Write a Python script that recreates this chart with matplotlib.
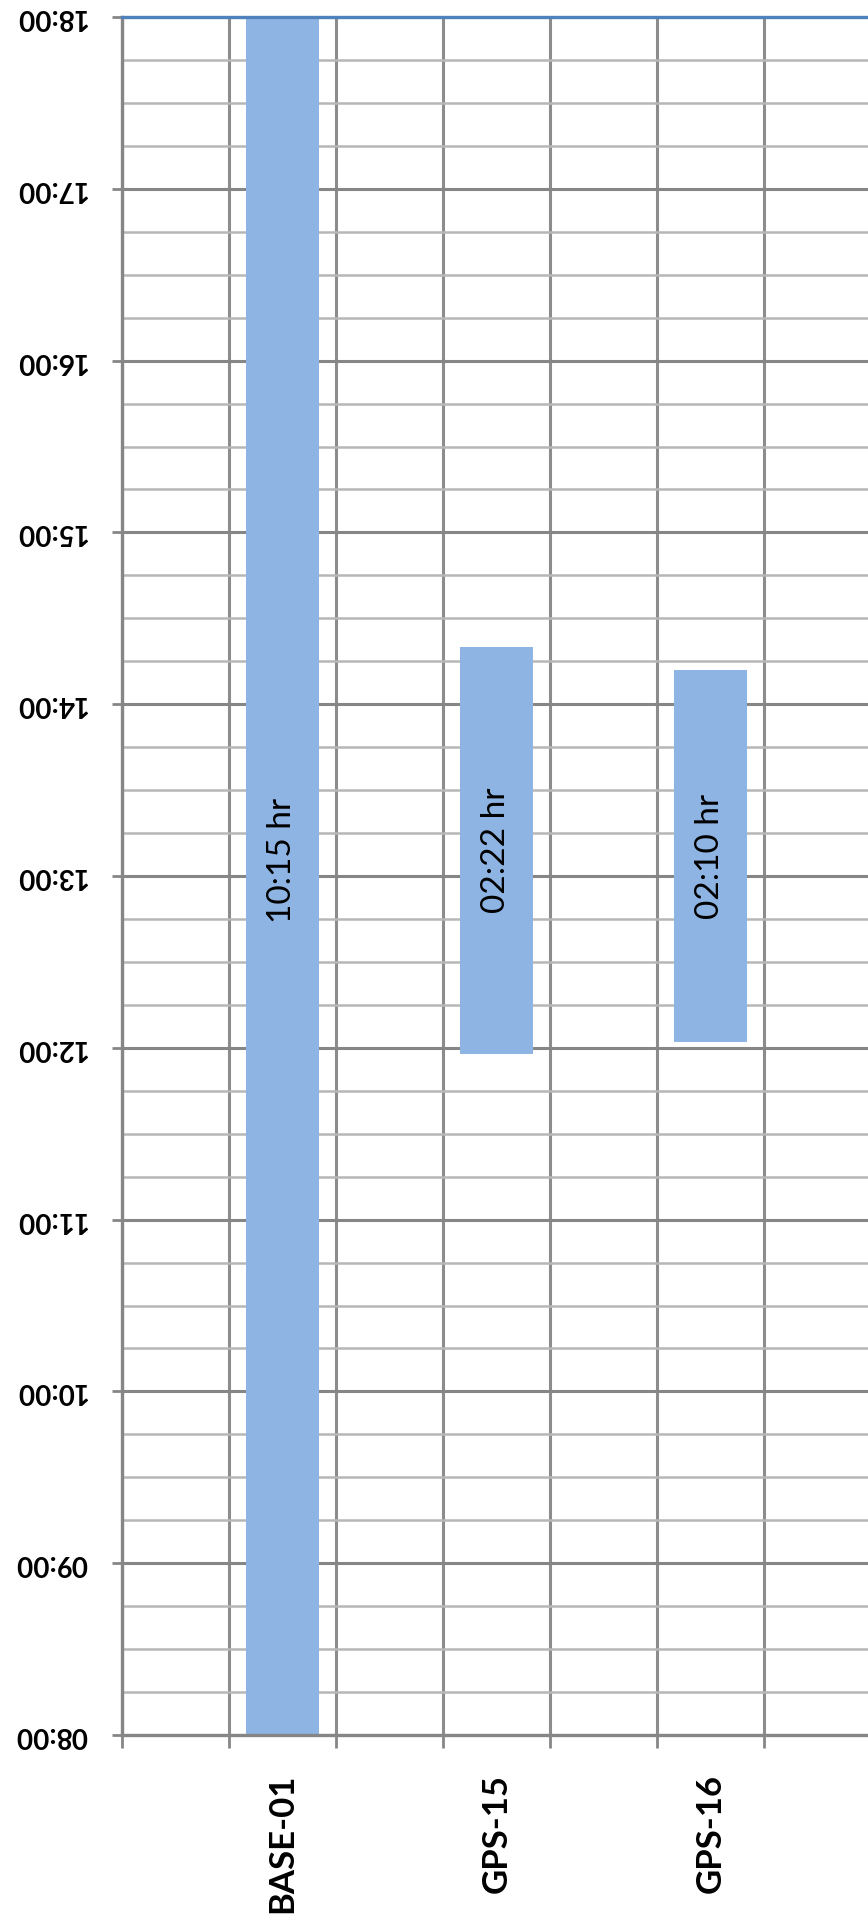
import numpy as np
import matplotlib
matplotlib.use("Agg")
import matplotlib.pyplot as plt
from matplotlib.ticker import FixedLocator, MultipleLocator, FuncFormatter

# Datos: estaciones y horas de inicio/fin de observacion
stations = ["BASE-01", "GPS-15", "GPS-16"]
start_times = ["07:58", "11:58", "12:02"]
end_times = ["18:13", "14:20", "14:12"]
durations = ["10:15 hr", "02:22 hr", "02:10 hr"]
y_ticks = ["08:00", "09:00", "10:00", "11:00", "12:00", "13:00",
           "14:00", "15:00", "16:00", "17:00", "18:00"]


def to_hours(hhmm):
    h, m = hhmm.split(":")
    return int(h) + int(m) / 60.0


def fmt_time(v, pos):
    return "%02d:%02d" % (int(v), int(round((v - int(v)) * 60)))


starts = np.array([to_hours(s) for s in start_times])
ends = np.array([to_hours(s) for s in end_times])
x = np.arange(len(stations))

fig = plt.figure(figsize=(8.68, 19.23), dpi=100)
ax = fig.add_axes([122 / 868, 188 / 1923, 1 - 122 / 868, (1906 - 188) / 1923])

ax.bar(x, ends - starts, bottom=starts, width=0.34, color="#8EB4E3", zorder=2)

for xi, s, e, d in zip(x, starts, ends, durations):
    ax.text(xi, (s + e) / 2, d, rotation=90, ha="center", va="center",
            fontsize=24, family=["Lato", "DejaVu Sans"], color="black", zorder=3)

ax.set_xlim(-0.75, 2.736)
ax.set_ylim(to_hours(y_ticks[0]), to_hours(y_ticks[-1]))

# eje Y: horas, etiquetas invertidas 180 grados
ax.yaxis.set_major_locator(FixedLocator([to_hours(t) for t in y_ticks]))
ax.yaxis.set_major_formatter(FuncFormatter(fmt_time))
ax.yaxis.set_minor_locator(MultipleLocator(0.25))
for lbl in ax.get_yticklabels():
    lbl.set_rotation(180)
    lbl.set_fontsize(20)
    lbl.set_fontweight("bold")
    lbl.set_family(["Lato", "DejaVu Sans"])
    lbl.set_va("center")
ax.tick_params(axis="y", which="major", length=7.2, width=2, color="#868686", pad=18)
ax.tick_params(axis="y", which="minor", length=0)

# eje X: estaciones
ax.set_xticks(x)
ax.set_xticklabels(stations, rotation=90, fontsize=25, fontweight="bold",
                   family=["Lato", "DejaVu Sans"], va="top")
ax.xaxis.set_minor_locator(FixedLocator(np.arange(-0.75, 2.74, 0.5)))
ax.tick_params(axis="x", which="major", length=0, pad=28)
ax.tick_params(axis="x", which="minor", length=9.4, width=2, color="#868686")

ax.set_axisbelow(True)
ax.grid(axis="y", which="major", color="#868686", linewidth=2.2)
ax.grid(axis="y", which="minor", color="#b7b7b7", linewidth=1.8)
ax.grid(axis="x", which="minor", color="#8c8c8c", linewidth=2.2)

ax.spines["right"].set_visible(False)
ax.spines["left"].set_color("#868686")
ax.spines["left"].set_linewidth(2.4)
ax.spines["bottom"].set_color("#868686")
ax.spines["bottom"].set_linewidth(2.4)
ax.spines["top"].set_color("#4F81BD")
ax.spines["top"].set_linewidth(2.4)

fig.savefig("out.png", dpi=100)
